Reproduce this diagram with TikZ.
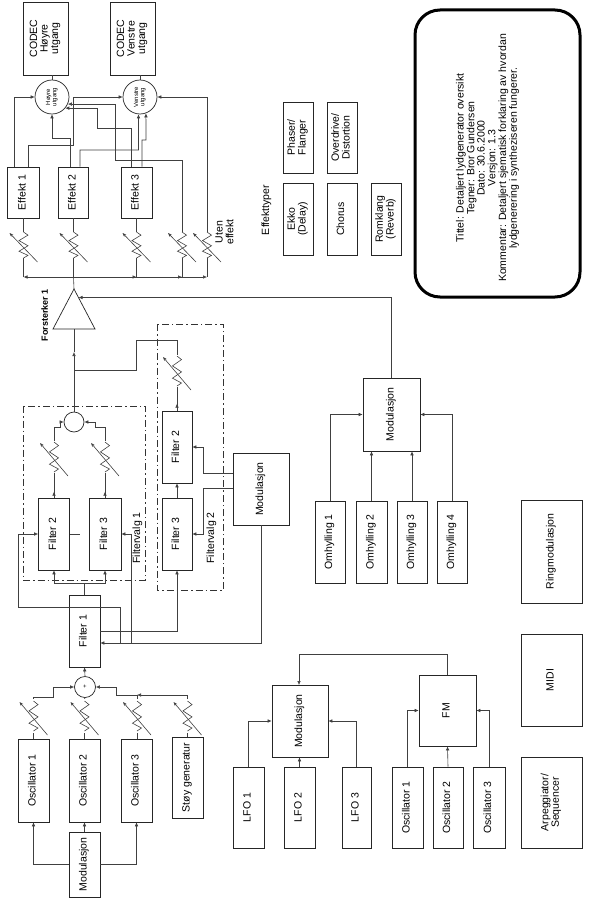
\documentclass[tikz,border=0pt]{standalone}
\usepackage{fontspec}
\setmainfont{Liberation Sans}
\usepackage{graphicx}
\usetikzlibrary{arrows.meta,calc}
\newcommand{\rt}[1]{\rotatebox{90}{\begin{tabular}{@{}c@{}}#1\end{tabular}}}
\newcommand{\fs}{\fontsize{10.5}{10.5}\selectfont}
\tikzset{
 box/.style={draw=black!85, line width=0.7pt, inner sep=0pt, font=\fs},
 wire/.style={draw=black!75, line width=0.6pt},
 arr/.style={wire, -{Latex[length=4pt,width=3.6pt]}},
 resn/.style={inner sep=0pt, minimum width=10pt},
 outc/.style={circle, draw=black!85, line width=0.7pt, minimum size=34pt, inner sep=0pt, font=\fontsize{6}{6.3}\selectfont},
 lbl/.style={inner sep=0pt, font=\fs},
 dashdot/.style={draw=black!80, line width=0.6pt, dash pattern=on 7pt off 3pt on 1.5pt off 3pt},
 pics/vres/.style={code={
   \draw[wire] (0,-#1) -- (4.5,{-#1*0.76}) -- (-4.5,{-#1*0.34}) -- (4.5,{#1*0.06}) -- (-4.5,{#1*0.48}) -- (4.5,{#1*0.8}) -- (0,#1);
   \draw[wire,-{Stealth[length=4pt,width=3pt]}] (14,{#1+4}) -- (-14,{-#1+1});
 }}
}
\begin{document}
\begin{tikzpicture}[x=1pt,y=-1pt]
\useasboundingbox (0,0) rectangle (590,899);
\fill[white] (0,0) rectangle (590,899);

% ---------- outputs ----------
\node[box,minimum width=45,minimum height=73] (codecH) at (45.5,38.5) {\rt{CODEC\\Høyre\\utgang}};
\node[box,minimum width=45,minimum height=73] (codecV) at (132.5,38.5) {\rt{CODEC\\Venstre\\utgang}};
\node[outc] (hoyre) at (52,97) {\rt{Høyre\\utgang}};
\node[outc] (venstre) at (140,97) {\rt{Venstre\\utgang}};
\draw[wire] (codecH.south -| hoyre) -- (hoyre.north);
\draw[wire] (codecV.south -| venstre) -- (venstre.north);

\node[box,minimum width=32,minimum height=51] (e1) at (23.5,192.5) {\rt{Effekt 1}};
\node[box,minimum width=30,minimum height=51] (e2) at (73.5,192.5) {\rt{Effekt 2}};
\node[box,minimum width=31,minimum height=51] (e3) at (136.5,192.5) {\rt{Effekt 3}};

\node[resn,minimum height=26] (r1) at (23.5,245) {};
\node[resn,minimum height=26] (r2) at (73.5,245) {};
\node[resn,minimum height=26] (r3) at (136.5,245) {};
\node[resn,minimum height=26] (r4) at (182,245) {};
\node[resn,minimum height=26] (r5) at (207,245) {};
\foreach \r in {r1,r2,r3,r4,r5} {\pic at (\r) {vres=13};}
\draw[wire] (e1.south) -- (r1.north);
\draw[wire] (e2.south) -- (r2.north);
\draw[wire] (e3.south) -- (r3.north);

\node[lbl] (uten) at (226,232) {\rt{Uten\\effekt}};
\node[lbl] (efftyp) at (267,210) {\rt{Effekttyper}};

% effect -> outputs
\draw[arr] ([xshift=-9.5]e1.north) |- (hoyre.west);
\draw[arr] ([xshift=4.5]e1.north) |- (73,145) |- (venstre.west);
\draw[arr] ([xshift=-3.5]e2.north) |- (52,138) -- (hoyre.south);
\draw[arr] ([xshift=6.5]e2.north) |- (138.5,150) -- (venstre.-95);
\draw[arr] ([xshift=-5.5]e3.north) |- (97,128) |- (hoyre.-40);
\draw[arr] ([xshift=5.5]e3.north) |- (146,140) -- (venstre.-70);
\draw[arr] (r4.north) |- (115,160) |- (hoyre.-24);
\draw[arr] (r5.north) |- (venstre.east);

% amplifier and bus
\coordinate (ampTop) at (74,289);
\coordinate (ampBase) at (74,329);
\coordinate (ampIn) at (78.5,297.5);
\draw[box] (ampTop) -- (95,329) -- (53,329) -- cycle;
\node[lbl,font=\bfseries\fontsize{9}{9}\selectfont] (forst) at (46,315) {\rt{Forsterker 1}};
\coordinate (bus) at (73.5,277);
\draw[wire] (r2.south) -- (bus) -- (ampTop);
\foreach \r in {r1,r3,r4,r5} {
  \draw[wire] (\r.south) -- (\r |- bus);
  \draw[arr] (bus) -- (\r |- bus);
}

% effect types
\node[box,minimum width=30,minimum height=71] (phaser) at (298,137.5) {\rt{Phaser/\\Flanger}};
\node[box,minimum width=30,minimum height=71] (overdrive) at (342,137.5) {\rt{Overdrive/\\Distortion}};
\node[box,minimum width=30,minimum height=72] (ekko) at (298,219) {\rt{Ekko\\(Delay)}};
\node[box,minimum width=30,minimum height=72] (chorus) at (342,219) {\rt{Chorus}};
\node[box,minimum width=30,minimum height=72] (romklang) at (386,219) {\rt{Romklang\\(Reverb)}};

% info box
\node[draw=black, line width=3pt, rounded corners=25pt, minimum width=165, minimum height=287, inner sep=0pt] (info) at (497.5,153.5) {};
\node[lbl, font=\fontsize{10.5}{10.4}\selectfont] (infotxt) at (488,158) {\rt{Tittel: Detaljert lydgenerator oversikt\\Tegner: Bror Gundersen\\Dato: 30.6.2000\\Versjon: 1.3\\Kommentar: Detaljert sjematisk forklaring av hvordan\\lydgenerering i syntheziseren fungerer.}};

% ---------- envelope modulation ----------
\node[box,minimum width=57,minimum height=73] (mod2) at (391.5,414.5) {\rt{Modulasjon}};
\node[box,minimum width=30,minimum height=82] (om1) at (330,542) {\rt{Omhylling 1}};
\node[box,minimum width=31,minimum height=82] (om2) at (371.5,542) {\rt{Omhylling 2}};
\node[box,minimum width=30,minimum height=82] (om3) at (412,542) {\rt{Omhylling 3}};
\node[box,minimum width=30,minimum height=82] (om4) at (452,542) {\rt{Omhylling 4}};
\draw[arr] (om1.north) |- (mod2.west);
\draw[arr] (om2.north) -- (om2.north |- mod2.south);
\draw[arr] (om3.north) -- (om3.north |- mod2.south);
\draw[arr] (om4.north) |- (mod2.east);
\draw[arr] (mod2.north) |- (ampIn);

\node[box,minimum width=61,minimum height=103] (ring) at (551.5,551.5) {\rt{Ringmodulasjon}};
\node[box,minimum width=61,minimum height=92] (midi) at (551.5,680) {\rt{MIDI}};
\node[box,minimum width=61,minimum height=91] (arp) at (551.5,802.5) {\rt{Arpeggiator/\\Sequencer}};

% ---------- FM ----------
\node[box,minimum width=57,minimum height=71] (fm) at (447.5,710.5) {\rt{FM}};
\node[box,minimum width=31,minimum height=81] (fo1) at (407.5,807.5) {\rt{Oscillator 1}};
\node[box,minimum width=30,minimum height=81] (fo2) at (448,807.5) {\rt{Oscillator 2}};
\node[box,minimum width=32,minimum height=81] (fo3) at (489,807.5) {\rt{Oscillator 3}};
\draw[arr] (fo1.north) |- (fm.west);
\draw[arr] (fo2.north) -- (fm.south);
\draw[arr] (fo3.north) |- (fm.east);

% ---------- LFO ----------
\node[box,minimum width=56,minimum height=72] (lmod) at (300,721) {\rt{Modulasjon}};
\node[box,minimum width=31,minimum height=81] (lfo1) at (248.5,807.5) {\rt{LFO 1}};
\node[box,minimum width=31,minimum height=81] (lfo2) at (299.5,807.5) {\rt{LFO 2}};
\node[box,minimum width=29,minimum height=81] (lfo3) at (356.5,807.5) {\rt{LFO 3}};
\draw[arr] (lfo1.north) |- (lmod.west);
\draw[arr] (lfo2.north) -- (lfo2.north |- lmod.south);
\draw[arr] (lfo3.north) |- (lmod.east);
\draw[arr] (fm.north) |- (299,654) -- (299,685);

% ---------- oscillators ----------
\node[box,minimum width=31,minimum height=83] (osc1) at (33.5,780.5) {\rt{Oscillator 1}};
\node[box,minimum width=31,minimum height=83] (osc2) at (84.5,780.5) {\rt{Oscillator 2}};
\node[box,minimum width=31,minimum height=83] (osc3) at (136.5,780.5) {\rt{Oscillator 3}};
\node[box,minimum width=31,minimum height=81] (stoy) at (187.5,777.5) {\rt{Støy generatur}};
\node[box,minimum width=31,minimum height=65] (mod1) at (84.5,864.5) {\rt{Modulasjon}};
\draw[arr] (mod1.west) -| (osc1.south);
\draw[arr] (mod1.north) -- (osc2.south);
\draw[arr] (mod1.east) -| (osc3.south);

\node[resn,minimum height=34] (ro1) at (33.5,716) {};
\node[resn,minimum height=34] (ro2) at (84.5,716) {};
\node[resn,minimum height=34] (ro3) at (137,716) {};
\node[resn,minimum height=34] (ro4) at (187.5,716) {};
\foreach \r in {ro1,ro2,ro3,ro4} {\pic at (\r) {vres=15};}
\draw[wire] (osc1.north) -- (ro1.south);
\draw[wire] (osc2.north) -- (ro2.south);
\draw[wire] (osc3.north -| ro3) -- (ro3.south);
\draw[wire] (stoy.north) -- (ro4.south);

\node[circle,draw=black!85,line width=0.7pt,minimum size=21,inner sep=0pt,font=\fontsize{6}{6}\selectfont] (sumB) at (85,687) {+};
\coordinate (o3j) at (137,695);
\draw[arr] (ro1.north) |- (53,697) |- (sumB.west);
\draw[wire] (ro2.north) -- (sumB.south);
\draw[arr] (ro3.north) |- (116,695) |- (sumB.east);
\draw[arr] (ro4.north) |- (o3j);

\node[box,minimum width=31,minimum height=72] (filter1) at (84.5,631) {\rt{Filter 1}};
\draw[arr] (sumB.north) -- (filter1.south);

% ---------- Filtervalg 1 ----------
\draw[dashdot] (23,406) rectangle (145,580);
\node[lbl] (fv1) at (138,538) {\rt{Filtervalg 1}};
\node[box,minimum width=31,minimum height=72] (f2a) at (54,534) {\rt{Filter 2}};
\node[box,minimum width=32,minimum height=72] (f3a) at (105,534) {\rt{Filter 3}};
\node[resn,minimum height=32] (ra2) at (54,457) {};
\node[resn,minimum height=32] (ra3) at (105,457) {};
\foreach \r in {ra2,ra3} {\pic at (\r) {vres=15};}
\draw[wire] (f2a.north) -- (ra2.south);
\draw[wire] (f3a.north) -- (ra3.south);
\draw[arr] (f2a.north) -- ++(0,-6);
\draw[arr] (f3a.north) -- ++(0,-6);
\node[circle,draw=black!85,line width=0.7pt,minimum size=20,inner sep=0pt] (sumA) at (74,422) {};
\draw[arr] (ra2.north) |- (60,427) |- (sumA.west);
\draw[arr] (ra3.north) |- (95,427) |- (sumA.east);
\draw[wire] (f2a.east) -- ++(10,0);

\coordinate (fsplit) at (84.5,583);
\draw[wire] (filter1.north) -- (fsplit);
\draw[arr] (fsplit) -| (f2a.south);
\draw[arr] (fsplit) -| (f3a.south);

% ---------- Filtervalg 2 ----------
\draw[dashdot] (157,324) rectangle (223,590);
\node[lbl] (fv2) at (212,538) {\rt{Filtervalg 2}};
\node[box,minimum width=30,minimum height=72] (f2b) at (177,447) {\rt{Filter 2}};
\node[box,minimum width=30,minimum height=72] (f3b) at (177,534) {\rt{Filter 3}};
\node[resn,minimum height=32] (rb2) at (177,371) {};
\pic at (rb2) {vres=15};
\draw[arr] (f3b.north) -- (f2b.south);
\draw[wire] (f2b.north) -- (rb2.south);
\draw[arr] (f2b.north) -- ++(0,-7);
\draw[arr] (filter1.east) -| (f3b.south);

\coordinate (jB) at (74,370);
\draw[arr] (sumA.north) -- (74,352);
\draw[wire] (74,352) -- (ampBase);
\draw[wire] (rb2.north) |- (136,340) |- (jB);

% ---------- filter modulation ----------
\node[box,minimum width=56,minimum height=72] (mod3) at (261,489) {\rt{Modulasjon}};
\draw[arr] ([yshift=16]mod3.west) -| (203,447) -- (f2b.east);
\draw[arr] ([yshift=1]mod3.west) -| (203,534) -- (f3b.east);
\draw[arr] (mod3.south) |- ([yshift=-12]filter1.east);
\coordinate (mj1) at (131,643);
\coordinate (mj2) at (120,643);
\draw[arr] (mj1) |- (f3a.east);
\draw[arr] (mj2) |- (18,607) |- (f2a.west);
\end{tikzpicture}
\end{document}
